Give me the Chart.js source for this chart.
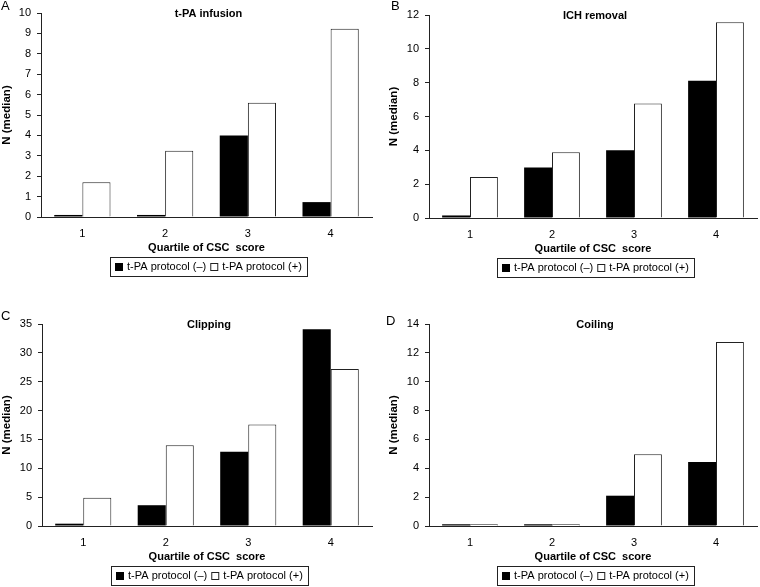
<!DOCTYPE html>
<html lang="en">
  <head>
    <meta charset="UTF-8" />
    <title>CSC score quartiles</title>
    <style>
      body { margin: 0; background: #fff; }
      .panel { position: absolute; }
    </style>
  </head>
  <body>
    <canvas id="chartA" class="panel" style="left:0;top:0" width="380" height="290"></canvas>
    <canvas id="chartB" class="panel" style="left:380px;top:0" width="380" height="290"></canvas>
    <canvas id="chartC" class="panel" style="left:0;top:290px" width="380" height="297"></canvas>
    <canvas id="chartD" class="panel" style="left:380px;top:290px" width="380" height="297"></canvas>

    <script src="https://cdn.jsdelivr.net/npm/chart.js"></script>
    <script>
      // dados
      const quartiles = ['1', '2', '3', '4'];
      const seriesLabels = ['t-PA protocol (\u2013)', 't-PA protocol (+)'];
      const panelTitles = ['t-PA infusion', 'ICH removal', 'Clipping', 'Coiling'];
      const panelLetters = ['A', 'B', 'C', 'D'];

      const tpaInfusionNeg = [0.1, 0.1, 4.0, 0.73];
      const tpaInfusionPos = [1.7, 3.25, 5.6, 9.23];
      const ichRemovalNeg = [0.15, 2.98, 4.0, 8.12];
      const ichRemovalPos = [2.43, 3.88, 6.77, 11.57];
      const clippingNeg = [0.4, 3.6, 12.86, 34.1];
      const clippingPos = [4.9, 14.0, 17.6, 27.2];
      const coilingNeg = [0.12, 0.12, 2.1, 4.44];
      const coilingPos = [0.12, 0.12, 4.98, 12.75];

      const yMaxes = [10, 12, 35, 14];
      const ySteps = [1, 2, 5, 2];

      const FONT = 'Liberation Sans, Arial, sans-serif';
      const LINE = '#222';

      // titulo, letra e legenda desenhados a mao
      const panelDecor = {
        id: 'panelDecor',
        afterDraw(chart, args, opts) {
          const ctx = chart.ctx;
          const area = chart.chartArea;
          const cx = (area.left + area.right) / 2 + 2;
          ctx.save();
          ctx.fillStyle = '#000';

          ctx.font = 'bold 11px ' + FONT;
          ctx.textAlign = 'center';
          ctx.textBaseline = 'middle';
          ctx.fillText(opts.title, cx, area.top + 1);

          ctx.font = '13px ' + FONT;
          ctx.textAlign = 'left';
          ctx.textBaseline = 'top';
          ctx.fillText(opts.letter, opts.letterX, opts.letterY);

          // legenda com caixa
          ctx.font = '11px ' + FONT;
          const sets = chart.data.datasets;
          const sq = 8, pad = 5, gap = 4, between = 4;
          const widths = sets.map(d => ctx.measureText(d.label).width);
          let total = pad * 2 + between;
          widths.forEach(w => { total += sq + gap + w; });
          const top = area.bottom + 40, h = 19;
          let x = Math.round(cx - total / 2);
          ctx.strokeStyle = LINE;
          ctx.lineWidth = 1;
          ctx.strokeRect(x + 0.5, top + 0.5, Math.round(total), h);
          x += pad;
          const mid = top + h / 2 + 0.5;
          ctx.textBaseline = 'middle';
          sets.forEach((d, i) => {
            ctx.fillStyle = d.backgroundColor;
            ctx.fillRect(x, Math.round(mid - sq / 2), sq, sq);
            if (d.borderWidth) {
              ctx.strokeStyle = LINE;
              ctx.strokeRect(x + 0.5, Math.round(mid - sq / 2) + 0.5, sq - 1, sq - 1);
            }
            x += sq + gap;
            ctx.fillStyle = '#000';
            ctx.fillText(d.label, x, mid);
            x += widths[i] + between;
          });
          ctx.restore();
        }
      };

      function makePanel(id, idx, neg, pos, lay) {
        const ctx = document.getElementById(id).getContext('2d');
        return new Chart(ctx, {
          type: 'bar',
          data: {
            labels: quartiles,
            datasets: [
              {
                label: seriesLabels[0],
                data: neg,
                backgroundColor: '#000',
                borderWidth: 0
              },
              {
                label: seriesLabels[1],
                data: pos,
                backgroundColor: '#fff',
                borderColor: LINE,
                borderWidth: 1
              }
            ]
          },
          options: {
            responsive: false,
            animation: false,
            events: [],
            categoryPercentage: 0.68,
            barPercentage: 1.0,
            layout: {
              padding: { left: lay.padLeft, right: lay.padRight, top: lay.padTop, bottom: lay.padBottom }
            },
            plugins: {
              legend: { display: false },
              tooltip: { enabled: false },
              panelDecor: {
                title: panelTitles[idx],
                letter: panelLetters[idx],
                letterX: lay.letterX,
                letterY: lay.letterY
              }
            },
            scales: {
              x: {
                grid: { display: false },
                border: { display: true, color: LINE, width: 1 },
                ticks: { color: '#000', padding: 2, font: { family: FONT, size: 11 } },
                title: {
                  display: true,
                  text: 'Quartile of CSC  score',
                  color: '#000',
                  font: { family: FONT, size: 11, weight: 'bold' },
                  padding: { top: 0, bottom: 2 }
                },
                afterFit(scale) { scale.height = 40; }
              },
              y: {
                min: 0,
                max: yMaxes[idx],
                grid: {
                  display: true,
                  drawOnChartArea: false,
                  drawTicks: true,
                  tickLength: 4,
                  color: LINE
                },
                border: { display: true, color: LINE, width: 1 },
                ticks: {
                  stepSize: ySteps[idx],
                  color: '#000',
                  padding: 6,
                  font: { family: FONT, size: 11 }
                },
                title: {
                  display: true,
                  text: 'N (median)',
                  color: '#000',
                  font: { family: FONT, size: 11.5, weight: 'bold' },
                  padding: { top: 0, bottom: 0 }
                },
                afterFit(scale) { scale.width = lay.yWidth; }
              }
            }
          },
          plugins: [panelDecor]
        });
      }

      makePanel('chartA', 0, tpaInfusionNeg, tpaInfusionPos,
        { padLeft: 0, padRight: 8, padTop: 13, padBottom: 33, yWidth: 41, letterX: 1, letterY: 0 });
      makePanel('chartB', 1, ichRemovalNeg, ichRemovalPos,
        { padLeft: 7, padRight: 3, padTop: 15, padBottom: 32, yWidth: 42, letterX: 11, letterY: 0 });
      makePanel('chartC', 2, clippingNeg, clippingPos,
        { padLeft: 0, padRight: 8, padTop: 34, padBottom: 21, yWidth: 42, letterX: 1, letterY: 20 });
      makePanel('chartD', 3, coilingNeg, coilingPos,
        { padLeft: 7, padRight: 3, padTop: 34, padBottom: 21, yWidth: 42, letterX: 6, letterY: 25 });
    </script>
  </body>
</html>
